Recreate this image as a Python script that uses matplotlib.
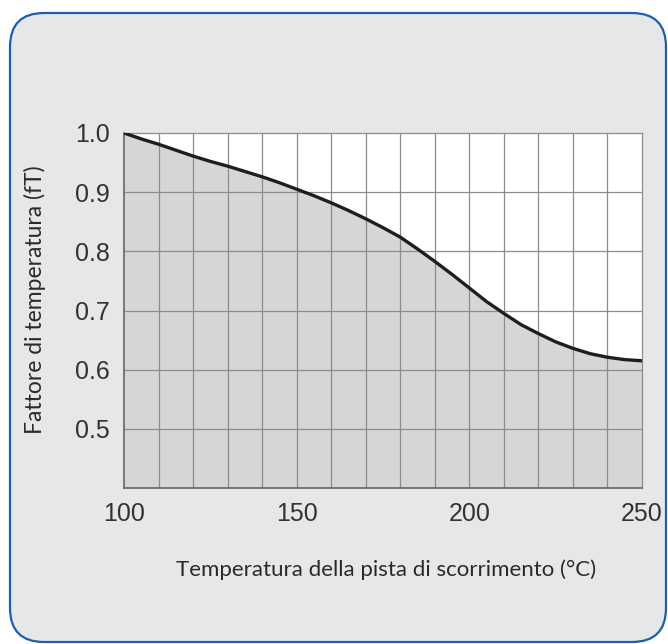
import matplotlib
matplotlib.use("Agg")
import matplotlib.pyplot as plt
from matplotlib.patches import FancyBboxPatch

temps = [100, 105, 110, 115, 120, 125, 130, 135, 140, 145, 150, 155, 160, 165,
         170, 175, 180, 185, 190, 195, 200, 205, 210, 215, 220, 225, 230, 235,
         240, 245, 250]
factor = [1.0, 0.990, 0.981, 0.971, 0.961, 0.952, 0.944, 0.935, 0.926, 0.916,
          0.905, 0.894, 0.882, 0.869, 0.855, 0.840, 0.824, 0.804, 0.783, 0.761,
          0.738, 0.715, 0.695, 0.676, 0.661, 0.647, 0.636, 0.627, 0.621, 0.617,
          0.615]
xticks = [100, 150, 200, 250]
yticks = [0.5, 0.6, 0.7, 0.8, 0.9, 1.0]
xlabel = "Temperatura della pista di scorrimento (°C)"
ylabel = "Fattore di temperatura (fT)"

W, H = 668, 644
fig = plt.figure(figsize=(W / 100, H / 100), dpi=100, facecolor="white")

# rounded panel
x0, y0, x1, y1 = 10, 13, 666, 642
r = 34
box = FancyBboxPatch((x0 / W, 1 - y1 / H), (x1 - x0) / W, (y1 - y0) / H,
                     boxstyle=f"round,pad=0,rounding_size={r / W}",
                     transform=fig.transFigure, facecolor="#e6e7e9",
                     edgecolor="#1d5fae", linewidth=1.6, zorder=-5,
                     mutation_aspect=W / H)
fig.patches.append(box)

ax = fig.add_axes([124 / W, 1 - 488 / H, (642 - 124) / W, (488 - 133) / H])
ax.set_zorder(1)
ax.set_facecolor("white")
ax.set_xlim(100, 250)
ax.set_ylim(0.4, 1.0)

ax.fill_between(temps, 0.4, factor, color="#d5d6d8", zorder=1, linewidth=0)
for x in range(110, 250, 10):
    ax.axvline(x, color="#8c8c8c", linewidth=0.9, zorder=2)
for y in [0.5, 0.6, 0.7, 0.8, 0.9]:
    ax.axhline(y, color="#8c8c8c", linewidth=0.9, zorder=2)
ax.plot(temps, factor, color="#1e1e1e", linewidth=2.4, zorder=3,
        solid_capstyle="butt", solid_joinstyle="round")

for side in ["left", "bottom"]:
    ax.spines[side].set_color("#6e6e6e")
    ax.spines[side].set_linewidth(1.3)
for side in ["top", "right"]:
    ax.spines[side].set_color("#8c8c8c")
    ax.spines[side].set_linewidth(0.9)

ax.set_xticks(xticks)
ax.set_yticks(yticks)
ax.set_xticklabels([str(v) for v in xticks], family="Liberation Sans", fontsize=18, color="#333333")
ax.set_yticklabels([f"{v:.1f}" for v in yticks], family="Liberation Sans", fontsize=18, color="#333333")
ax.tick_params(length=0, pad=10)
ax.tick_params(axis="x", pad=10)

fig.text(386 / W, 1 - 570 / H, xlabel, ha="center", va="center",
         family="Lato", fontsize=16, color="#2a2a2a")
fig.text(35 / W, 1 - 300 / H, ylabel, ha="center", va="center", rotation=90,
         family="Lato", fontsize=16.5, color="#2a2a2a")

fig.savefig("out.png", dpi=100, facecolor="white")
